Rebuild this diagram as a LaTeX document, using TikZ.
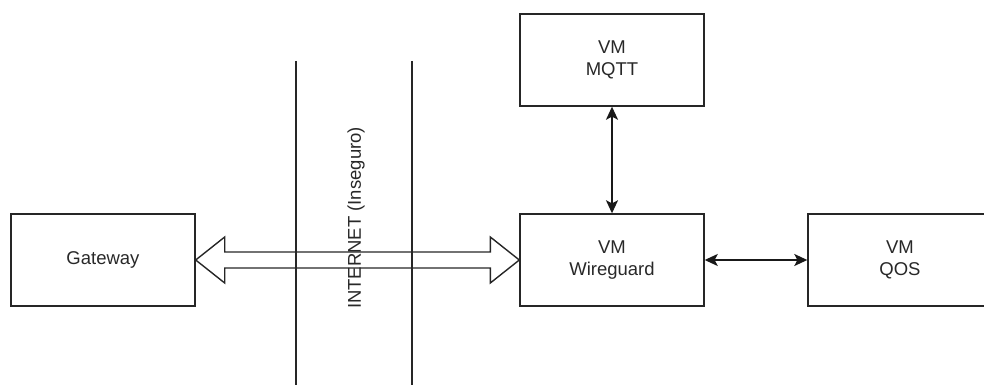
\documentclass[tikz,border=0pt]{standalone}
\usepackage{fontspec}
\setmainfont{Liberation Sans}
\usetikzlibrary{arrows.meta,calc}
\definecolor{txt}{RGB}{40,40,40}
\tikzset{
  box/.style={draw=black!85, line width=1.4pt, minimum width=184pt, minimum height=92pt,
    inner sep=0pt, align=center, text=txt, font=\fontsize{18.5}{22}\selectfont},
  conn/.style={line width=1.6pt, draw=black!90, {Stealth[length=13pt,width=12pt,inset=3pt]}-{Stealth[length=13pt,width=12pt,inset=3pt]}},
  wall/.style={line width=1.4pt, draw=black!85},
  fat/.style={line width=1.4pt, draw=black!85, line join=miter}
}
\begin{document}
\begin{tikzpicture}[x=1pt,y=-1pt]
\useasboundingbox (0,0) rectangle (984,385);
\clip (0,0) rectangle (984,385);
\node[box] (gw) at (103,260) {Gateway};
\node[box] (mqtt) at (612,60) {VM\\MQTT};
\node[box] (wg) at (612,260) {VM\\Wireguard};
\node[box] (qos) at (900,260) {VM\\QOS};
\coordinate (w1top) at (296,61);
\coordinate (w1bot) at (296,386);
\coordinate (w2top) at (412,61);
\coordinate (w2bot) at (412,386);
\draw[wall] (w1top) -- (w1bot);
\draw[wall] (w2top) -- (w2bot);
\node[rotate=90, text=txt, font=\fontsize{18.5}{22}\selectfont, inner sep=0pt] (inet) at (356,218) {INTERNET (Inseguro)};
\draw[fat] (gw.east)
  -- ($(gw.east)+(29,-23)$) -- ($(gw.east)+(29,-8)$)
  -- ($(wg.west)+(-29,-8)$) -- ($(wg.west)+(-29,-23)$)
  -- (wg.west)
  -- ($(wg.west)+(-29,23)$) -- ($(wg.west)+(-29,8)$)
  -- ($(gw.east)+(29,8)$) -- ($(gw.east)+(29,23)$) -- cycle;
\draw[conn] (mqtt.south) -- (wg.north);
\draw[conn] (wg.east) -- (qos.west);
\end{tikzpicture}
\end{document}
